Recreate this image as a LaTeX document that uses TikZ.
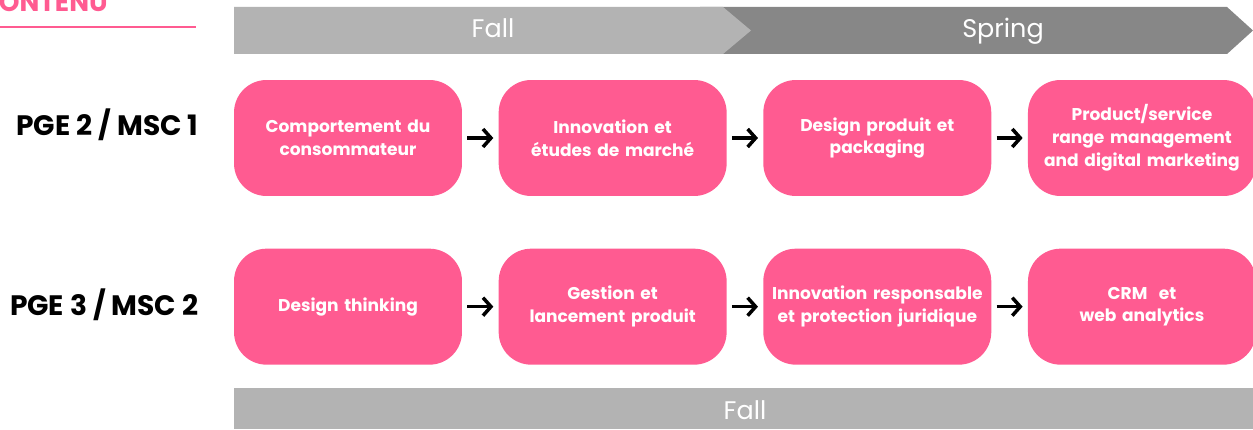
\documentclass[tikz,border=0pt]{standalone}
\usepackage{fontspec}
\setmainfont{Poppins}
\usepackage{tikz}
\usetikzlibrary{arrows.meta, positioning}
\definecolor{rose}{HTML}{FF5B91}
\definecolor{lightbar}{HTML}{B3B3B3}
\definecolor{darkbar}{HTML}{878787}
\tikzstyle{course} = [rectangle, rounded corners=0.65cm, minimum width=4.56cm, minimum height=2.32cm, inner sep=0pt, text width=4.4cm, align=center, fill=rose, text=white, font=\bfseries\fontsize{9.7}{13}\selectfont]
\tikzstyle{year} = [font=\bfseries\fontsize{16}{18}\selectfont, inner sep=0pt]
\tikzstyle{term} = [text=white, anchor=base, font=\fontsize{14.5}{16}\selectfont]
\tikzstyle{arrow} = [line width=2pt, -{Straight Barb[length=1.6mm, width=3.6mm]}, shorten <=0.1cm, shorten >=0.1cm]

\begin{document}
\begin{tikzpicture}[x=0.02cm, y=-0.02cm]
\useasboundingbox (0,0) rectangle (1253,429);
% header
\node (head) [anchor=base east, inner sep=0pt, text=rose, font=\bfseries\fontsize{15}{17}\selectfont] at (108,12) {CONTENU};
\draw [rose, line width=1.2pt] (0,27) -- (196,27);
% term bars
\fill [darkbar] (700,7) -- (1227,7) -- (1253,30.5) -- (1227,54) -- (700,54) -- cycle;
\fill [lightbar] (234,7) -- (723,7) -- (751,30.5) -- (723,54) -- (234,54) -- cycle;
\fill [lightbar] (234,388) rectangle (1253,429);
\node (fall) [term] at (493,38) {Fall};
\node (spring) [term] at (1003,38) {Spring};
\node (fallb) [term] at (745,419) {Fall};
% first year
\node (a1) [course] at (348,138) {Comportement du\\consommateur};
\node (a2) [course, right=0.72cm of a1] {Innovation et\\études de marché};
\node (a3) [course, right=0.72cm of a2] {Design produit et\\packaging};
\node (a4) [course, right=0.72cm of a3] {Product/service\\range management\\and digital marketing};
% second year
\node (b1) [course, below=1.04cm of a1] {Design thinking};
\node (b2) [course, right=0.72cm of b1] {Gestion et\\lancement produit};
\node (b3) [course, right=0.72cm of b2] {Innovation responsable\\et protection juridique};
\node (b4) [course, right=0.72cm of b3] {CRM\ \ et\\web analytics};
\node (y1) [year, left=0.7cm of a1, anchor=base east, yshift=0.06cm] {PGE 2 / MSC 1};
\node (y2) [year, left=0.7cm of b1, anchor=base east, yshift=-0.18cm] {PGE 3 / MSC 2};
\draw [arrow] (a1) -- (a2);
\draw [arrow] (a2) -- (a3);
\draw [arrow] (a3) -- (a4);
\draw [arrow] (b1) -- (b2);
\draw [arrow] (b2) -- (b3);
\draw [arrow] (b3) -- (b4);
\end{tikzpicture}
\end{document}
